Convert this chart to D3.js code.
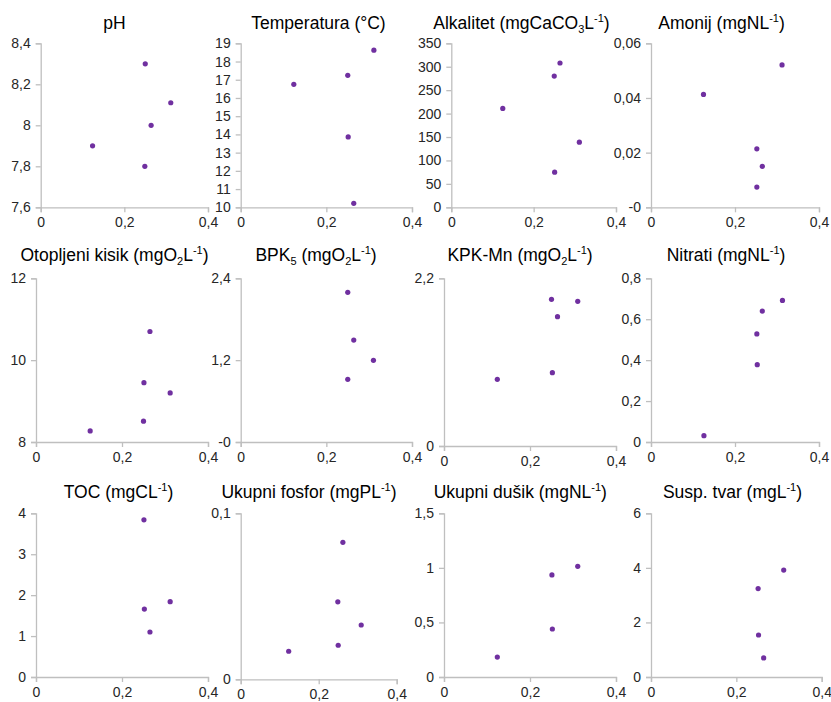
<!DOCTYPE html>
<html><head><meta charset="utf-8">
<script src="https://cdn.jsdelivr.net/npm/d3@7"></script>
<style>
html,body{margin:0;padding:0;background:#fff;}
text{font-family:"Liberation Sans",Arial,sans-serif;}
</style></head>
<body><svg id="c" width="831" height="702"></svg>
<script>
// ---------- DATA ----------
const titles = [
  [["pH"]],
  [["Temperatura (°C)"]],
  [["Alkalitet (mgCaCO"],["3","sub"],["L"],["-1","sup"],[")"]],
  [["Amonij (mgNL"],["-1","sup"],[")"]],
  [["Otopljeni kisik (mgO"],["2","sub"],["L"],["-1","sup"],[")"]],
  [["BPK"],["5","sub"],[" (mgO"],["2","sub"],["L"],["-1","sup"],[")"]],
  [["KPK-Mn (mgO"],["2","sub"],["L"],["-1","sup"],[")"]],
  [["Nitrati (mgNL"],["-1","sup"],[")"]],
  [["TOC (mgCL"],["-1","sup"],[")"]],
  [["Ukupni fosfor (mgPL"],["-1","sup"],[")"]],
  [["Ukupni dušik (mgNL"],["-1","sup"],[")"]],
  [["Susp. tvar (mgL"],["-1","sup"],[")"]]
];

const xTickValues = [0, 0.2, 0.4];
const xTickLabels = ["0", "0,2", "0,4"];

const pH_x = [0.124, 0.250, 0.311, 0.264, 0.249];
const pH_y = [7.90, 8.30, 8.11, 8.00, 7.80];
const temp_x = [0.124, 0.250, 0.311, 0.251, 0.264];
const temp_y = [16.75, 17.24, 18.62, 13.86, 10.22];
const alk_x = [0.125, 0.250, 0.264, 0.311, 0.251];
const alk_y = [211, 280, 308, 139, 75];
const amon_x = [0.125, 0.312, 0.252, 0.265, 0.252];
const amon_y = [0.0413, 0.0521, 0.0214, 0.0150, 0.0074];
const kisik_x = [0.126, 0.265, 0.251, 0.312, 0.250];
const kisik_y = [8.27, 10.70, 9.45, 9.20, 8.51];
const bpk_x = [0.250, 0.264, 0.310, 0.250];
const bpk_y = [2.195, 1.495, 1.198, 0.919];
const kpk_x = [0.124, 0.250, 0.311, 0.264, 0.252];
const kpk_y = [0.875, 1.924, 1.898, 1.697, 0.962];
const nitrati_x = [0.126, 0.313, 0.265, 0.252, 0.253];
const nitrati_y = [0.031, 0.692, 0.640, 0.528, 0.378];
const toc_x = [0.251, 0.312, 0.252, 0.265];
const toc_y = [3.84, 1.84, 1.66, 1.10];
const fosfor_x = [0.123, 0.262, 0.249, 0.309, 0.250];
const fosfor_y = [0.0169, 0.0825, 0.0467, 0.0327, 0.0205];
const dusik_x = [0.124, 0.311, 0.251, 0.252];
const dusik_y = [0.183, 1.014, 0.935, 0.440];
const susp_x = [0.311, 0.251, 0.252, 0.264];
const susp_y = [3.92, 3.24, 1.54, 0.70];

const yTickValues = [
  [7.6, 7.8, 8, 8.2, 8.4],
  [10, 11, 12, 13, 14, 15, 16, 17, 18, 19],
  [0, 50, 100, 150, 200, 250, 300, 350],
  [0, 0.02, 0.04, 0.06],
  [8, 10, 12],
  [0, 1.2, 2.4],
  [0, 2.2],
  [0, 0.2, 0.4, 0.6, 0.8],
  [0, 1, 2, 3, 4],
  [0, 0.1],
  [0, 0.5, 1, 1.5],
  [0, 2, 4, 6]
];
const yTickLabels = [
  ["7,6", "7,8", "8", "8,2", "8,4"],
  ["10", "11", "12", "13", "14", "15", "16", "17", "18", "19"],
  ["0", "50", "100", "150", "200", "250", "300", "350"],
  ["-0", "0,02", "0,04", "0,06"],
  ["8", "10", "12"],
  ["-0", "1,2", "2,4"],
  ["0", "2,2"],
  ["0", "0,2", "0,4", "0,6", "0,8"],
  ["0", "1", "2", "3", "4"],
  ["0", "0,1"],
  ["0", "0,5", "1", "1,5"],
  ["0", "2", "4", "6"]
];

const seriesX = [pH_x, temp_x, alk_x, amon_x, kisik_x, bpk_x, kpk_x, nitrati_x, toc_x, fosfor_x, dusik_x, susp_x];
const seriesY = [pH_y, temp_y, alk_y, amon_y, kisik_y, bpk_y, kpk_y, nitrati_y, toc_y, fosfor_y, dusik_y, susp_y];

// ---------- LAYOUT ----------
const frames = [
  {x0: 40.7, x1: 208, top: 43.3, bot: 207.3, tx: 114.5, ty: 28.5},
  {x0: 240.7, x1: 412, top: 43.3, bot: 207.3, tx: 318.5, ty: 28.5},
  {x0: 451.3, x1: 616, top: 43.3, bot: 207.3, tx: 521.5, ty: 28.5},
  {x0: 651, x1: 819, top: 43.3, bot: 207.3, tx: 721.5, ty: 28.5},
  {x0: 36, x1: 208, top: 278.3, bot: 442, tx: 114.5, ty: 261},
  {x0: 240.7, x1: 412, top: 278.3, bot: 442, tx: 316, ty: 261},
  {x0: 444, x1: 616, top: 278.3, bot: 446, tx: 520, ty: 261},
  {x0: 651, x1: 819, top: 278.3, bot: 442, tx: 726, ty: 261},
  {x0: 36, x1: 208, top: 513.3, bot: 677, tx: 118.5, ty: 498.3},
  {x0: 240.7, x1: 396.7, top: 513.3, bot: 679.3, tx: 309, ty: 498.3},
  {x0: 444, x1: 616, top: 513.3, bot: 677, tx: 520.3, ty: 498.3},
  {x0: 651, x1: 821.7, top: 513.3, bot: 677, tx: 732.5, ty: 498.3}
];

const axisColor = "#bfbfbf";
const textColor = "#262626";
const dotColor = "#7030a0";

const svg = d3.select("#c");

frames.forEach((f, i) => {
  const g = svg.append("g");
  const yv = yTickValues[i];
  const x = d3.scaleLinear().domain([0, 0.4]).range([f.x0, f.x1]);
  const y = d3.scaleLinear().domain([yv[0], yv[yv.length - 1]]).range([f.bot, f.top]);

  // title
  const t = g.append("text")
    .attr("x", f.tx).attr("y", f.ty)
    .attr("text-anchor", "middle")
    .attr("font-size", 17.5)
    .attr("fill", "#000");
  let shift = 0;
  titles[i].forEach(seg => {
    const [txt, kind] = seg;
    const ts = t.append("tspan").text(txt);
    let target = 0;
    if (kind === "sub") { ts.attr("font-size", 11); target = 4; }
    else if (kind === "sup") { ts.attr("font-size", 11); target = -7; }
    ts.attr("dy", target - shift);
    shift = target;
  });

  // x axis
  const xAxis = d3.axisBottom(x).tickValues(xTickValues)
    .tickFormat((d, k) => xTickLabels[k]).tickSizeOuter(0).tickSize(5).tickPadding(5);
  const gx = g.append("g").attr("transform", `translate(0,${f.bot})`).call(xAxis);

  // y axis
  const yAxis = d3.axisLeft(y).tickValues(yv)
    .tickFormat((d, k) => yTickLabels[i][k]).tickSizeOuter(0).tickSize(5).tickPadding(5);
  const gy = g.append("g").attr("transform", `translate(${f.x0},0)`).call(yAxis);

  [gx, gy].forEach(a => {
    a.select(".domain").attr("stroke", axisColor).attr("stroke-width", 1.3);
    a.selectAll(".tick line").attr("stroke", axisColor).attr("stroke-width", 1.3);
    a.selectAll(".tick text").attr("fill", textColor).attr("font-size", 14)
      .attr("font-family", "'Liberation Sans', Arial, sans-serif");
  });

  // points
  g.append("g").selectAll("circle")
    .data(seriesX[i].map((v, k) => [v, seriesY[i][k]]))
    .join("circle")
    .attr("cx", d => x(d[0]))
    .attr("cy", d => y(d[1]))
    .attr("r", 2.6)
    .attr("fill", dotColor);
});
</script>
</body></html>
